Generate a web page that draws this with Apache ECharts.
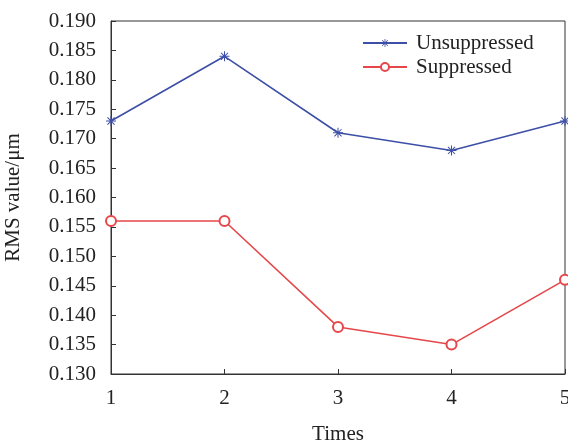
<!DOCTYPE html>
<html>
<head>
<meta charset="utf-8">
<script src="https://cdn.jsdelivr.net/npm/echarts@6/dist/echarts.min.js"></script>
<style>html,body{margin:0;padding:0;background:#fff;}#c{width:568px;height:441px;}</style>
</head>
<body>
<div id="c"></div>
<script>
const times = [1, 2, 3, 4, 5];
const unsuppressed = [0.173, 0.184, 0.171, 0.168, 0.173];
const suppressed = [0.156, 0.156, 0.138, 0.135, 0.146];
const yTicks = {min: 0.130, max: 0.190, step: 0.005};

const font = 'Liberation Serif';
const asterisk = 'path://M9,0L11,0L11,7.6L16.4,2.2L17.8,3.6L12.4,9L20,9L20,11L12.4,11L17.8,16.4L16.4,17.8L11,12.4L11,20L9,20L9,12.4L3.6,17.8L2.2,16.4L7.6,11L0,11L0,9L7.6,9L2.2,3.6L3.6,2.2L9,7.6Z';

const chart = echarts.init(document.getElementById('c'), null, {renderer: 'canvas'});
chart.setOption({
  animation: false,
  backgroundColor: '#fff',
  textStyle: {fontFamily: font},
  grid: {left: 111, right: 3, top: 21, bottom: 67, containLabel: false, outerBoundsMode: 'none',
         show: true, borderColor: '#333', borderWidth: 1, backgroundColor: 'transparent'},
  legend: {
    orient: 'vertical', left: 362, top: 32, padding: 0, itemWidth: 44, itemHeight: 10, itemGap: 2,
    textStyle: {fontFamily: font, fontSize: 21, color: '#222', lineHeight: 22, padding: [0, 0, 0, 4]},
    data: ['Unsuppressed', 'Suppressed']
  },
  xAxis: {
    type: 'value', min: 1, max: 5, interval: 1,
    name: 'Times', nameLocation: 'middle', nameGap: 50,
    nameTextStyle: {fontFamily: font, fontSize: 21, color: '#222'},
    axisLine: {lineStyle: {color: '#333', width: 1}},
    axisTick: {inside: true, length: 5, lineStyle: {color: '#333'}},
    axisLabel: {fontFamily: font, fontSize: 21, color: '#222', margin: 14},
    splitLine: {show: false}
  },
  yAxis: {
    type: 'value', min: yTicks.min, max: yTicks.max, interval: yTicks.step,
    name: 'RMS value/μm', nameLocation: 'middle', nameGap: 87,
    nameTextStyle: {fontFamily: font, fontSize: 21, color: '#222'},
    axisLine: {show: true, lineStyle: {color: '#333', width: 1}},
    axisTick: {show: true, inside: true, length: 5, lineStyle: {color: '#333'}},
    axisLabel: {fontFamily: font, fontSize: 21, color: '#222', margin: 15, formatter: v => v.toFixed(3)},
    splitLine: {show: false}
  },
  series: [
    {
      name: 'Unsuppressed', type: 'line',
      data: times.map((t, i) => [t, unsuppressed[i]]),
      symbol: asterisk, symbolSize: 10,
      itemStyle: {color: '#3d4fa6'},
      lineStyle: {color: '#3d4fa6', width: 1.6},
      clip: false
    },
    {
      name: 'Suppressed', type: 'line',
      data: times.map((t, i) => [t, suppressed[i]]),
      symbol: 'emptyCircle', symbolSize: 10,
      itemStyle: {color: '#e5474b', borderWidth: 1.5},
      lineStyle: {color: '#e5474b', width: 1.6},
      clip: false
    }
  ]
});
</script>
</body>
</html>
